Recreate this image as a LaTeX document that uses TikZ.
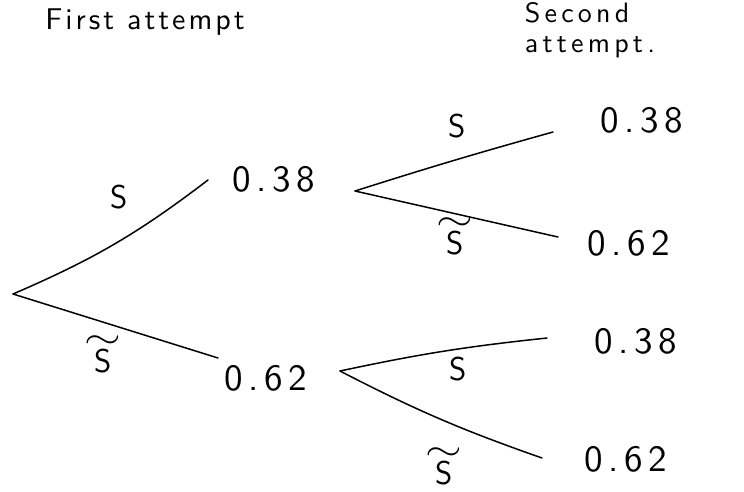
\documentclass[tikz,border=0pt]{standalone}
\usepackage{fontspec}
\newfontfamily\handA[LetterSpace=15]{lmsans10-regular.otf}
\newfontfamily\handB[LetterSpace=10]{lmsans10-regular.otf}
\newfontfamily\handC[LetterSpace=15]{lmsans10-regular.otf}
\newcommand{\tildeS}{\ooalign{S\cr\hidewidth\raisebox{24pt}{\scalebox{1.9}[1.4]{$\sim$}}\hidewidth\cr}}
\begin{document}
\begin{tikzpicture}[x=1pt,y=-1pt,
  branch/.style={line width=1.5pt, line cap=round},
  prob/.style={font=\handA\fontsize{37}{40}\selectfont, inner sep=0pt},
  lab/.style={font=\sffamily\fontsize{33}{36}\selectfont, inner sep=0pt, anchor=base},
  head/.style={font=\handB\fontsize{30}{32}\selectfont, inner sep=0pt},
  head2/.style={font=\handC\fontsize{28}{30}\selectfont, inner sep=0pt, align=left}]
\useasboundingbox (0,0) rectangle (744,491);
% headings
\node[head] (h1) at (145,22) {First attempt};
\node[head2] (h2) at (590,30) {Second\\attempt.};
% first level
\coordinate (root) at (13,294);
\node[prob] (a) at (274,179) {0.38};
\node[prob] (b) at (266,378) {0.62};
\coordinate (a-in) at (208,180);
\coordinate (b-in) at (218,358);
\draw[branch] (root) to[bend right=7] (a-in);
\draw[branch] (root) -- (b-in);
\node[lab] (s1) at (119,208) {S};
\node[lab] (s2) at (103,372) {\tildeS};
% second level, upper
\coordinate (a-out) at (355,191);
\node[prob] (aa) at (642,120) {0.38};
\node[prob] (ab) at (629,243) {0.62};
\coordinate (aa-in) at (553,132);
\coordinate (ab-in) at (558,237);
\draw[branch] (a-out) to[bend left=1] (aa-in);
\draw[branch] (a-out) -- (ab-in);
\node[lab] (s3) at (457,137) {S};
\node[lab] (s4) at (455,254) {\tildeS};
% second level, lower
\coordinate (b-out) at (340,371);
\node[prob] (ba) at (636,341) {0.38};
\node[prob] (bb) at (626,459) {0.62};
\coordinate (ba-in) at (547,338);
\coordinate (bb-in) at (542,458);
\draw[branch] (b-out) to[bend left=3] (ba-in);
\draw[branch] (b-out) to[bend right=4] (bb-in);
\node[lab] (s5) at (458,380) {S};
\node[lab] (s6) at (444,484) {\tildeS};
\end{tikzpicture}
\end{document}
